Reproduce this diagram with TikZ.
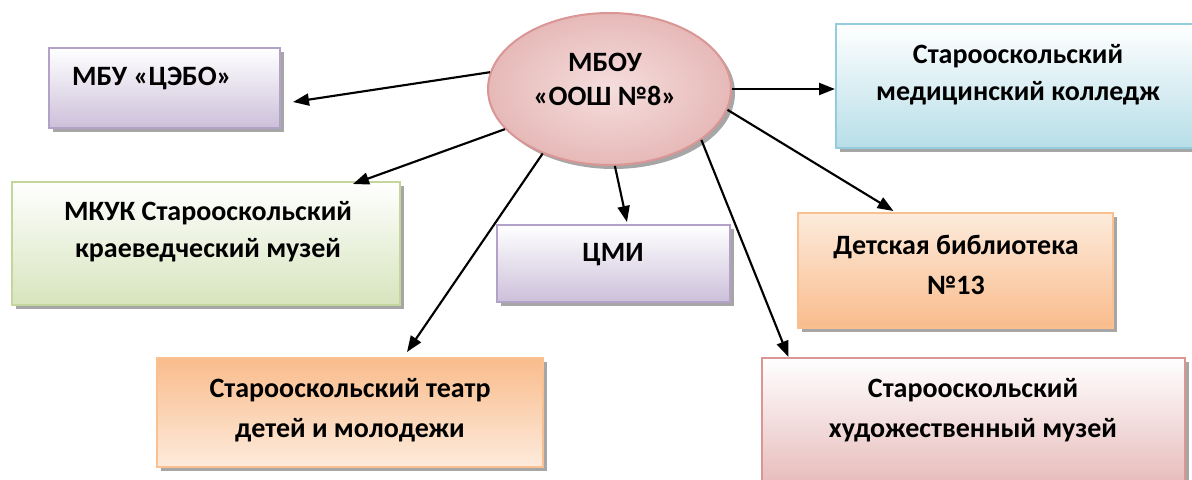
\documentclass[tikz,border=0pt]{standalone}
\usepackage{fontspec}
\setmainfont{Carlito}
\usetikzlibrary{arrows.meta,shapes,shadows}
\definecolor{lilacline}{HTML}{B3A2C7}
\definecolor{lilacfill}{HTML}{CCC0DA}
\definecolor{blueline}{HTML}{93CDDD}
\definecolor{bluefill}{HTML}{B7DEE8}
\definecolor{greenline}{HTML}{C3D69B}
\definecolor{greenfill}{HTML}{D7E4BD}
\definecolor{orangeline}{HTML}{FAC090}
\definecolor{orangefill}{HTML}{F9BC8C}
\definecolor{orangelight}{HTML}{FDEBDC}
\definecolor{pinkline}{HTML}{D99694}
\definecolor{pinkfill}{HTML}{E6B9B8}
\definecolor{pinklight}{HTML}{F5DEDD}
\definecolor{shadowgray}{HTML}{A6A6A6}
\tikzstyle{box}=[rectangle,draw,line width=1.5pt,inner sep=0pt,
  general shadow={fill=shadowgray,shadow xshift=3pt,shadow yshift=-3pt}]
\tikzstyle{lilac}=[box,draw=lilacline,top color=white,bottom color=lilacfill]
\tikzstyle{blue}=[box,draw=blueline,top color=white,bottom color=bluefill]
\tikzstyle{green}=[box,draw=greenline,top color=white,bottom color=greenfill]
\tikzstyle{orange}=[box,draw=orangeline,top color=orangelight,bottom color=orangefill]
\tikzstyle{peach}=[box,draw=orangeline,shading angle=-135,top color=orangefill,bottom color=orangelight]
\tikzstyle{rose}=[box,draw=pinkline,top color=white,bottom color=pinkfill]
\tikzstyle{txt}=[align=center,inner sep=0pt,font=\fontsize{21}{28}\selectfont\bfseries]
\tikzstyle{edge}=[draw,line width=1.6pt,-{Triangle[length=12pt,width=9pt]}]

\begin{document}
\begin{tikzpicture}[x=0.75pt,y=-0.75pt]
    \useasboundingbox (0,0) rectangle (1192,479);
    % the boxes first
    \foreach \pos/\name/\w/\h/\kind in {{(164.5,88)/cebo/231/80/lilac}, {(1016,86)/kol/360/124/blue},
        {(206,243.5)/mkuk/388/123/green}, {(613.5,263.5)/cmi/233/77/lilac}, {(955.5,270.5)/bib/315/115/orange},
        {(350,412.5)/teatr/386/109/peach}, {(973.5,424)/hud/423/132/rose}}
        \node[\kind,minimum width=\w*0.75pt,minimum height=\h*0.75pt] (\name) at \pos {};
    % the school in the middle
    \node[ellipse,draw=pinkline,line width=1.5pt,inner sep=0pt,inner color=pinklight,outer color=pinkfill,
        general shadow={fill=shadowgray,shadow xshift=3pt,shadow yshift=-3pt},
        minimum width=243*0.75pt,minimum height=152*0.75pt] (ell) at (609.5,89) {};
    % texts
    \node[txt,font=\fontsize{21}{26}\selectfont\bfseries] (ell-t) at (605,79.5) {МБОУ\\«ООШ №8»};
    \node[txt] (cebo-t) at (152,78) {МБУ «ЦЭБО»};
    \node[txt] (kol-t) at (1018,75) {Старооскольский\\медицинский колледж};
    \node[txt] (mkuk-t) at (208,231.5) {МКУК Старооскольский\\краеведческий музей};
    \node[txt] (cmi-t) at (613,255) {ЦМИ};
    \node[txt,font=\fontsize{21}{30}\selectfont\bfseries] (bib-t) at (956,265) {Детская библиотека\\№13};
    \node[txt,font=\fontsize{21}{30}\selectfont\bfseries] (teatr-t) at (350,410) {Старооскольский театр\\детей и молодежи};
    \node[txt,font=\fontsize{21}{30}\selectfont\bfseries] (hud-t) at (973,410) {Старооскольский\\художественный музей};
    % arrows out of the ellipse
    \draw[edge] (ell.0) -- (ell.0 -| kol.west);
    \foreach \ang/\dest/\dx/\dy in {172.5/cebo.east/12/-14, -159/mkuk.north/147/-3, -86.5/cmi.north/13.5/2,
        -136/teatr.north/57/5, -10/bib.north/-62/1, -29.5/hud.north/-185/0}
        \path[edge] (ell.\ang) -- ([xshift=\dx*0.75pt,yshift=\dy*0.75pt]\dest);
\end{tikzpicture}
\end{document}
